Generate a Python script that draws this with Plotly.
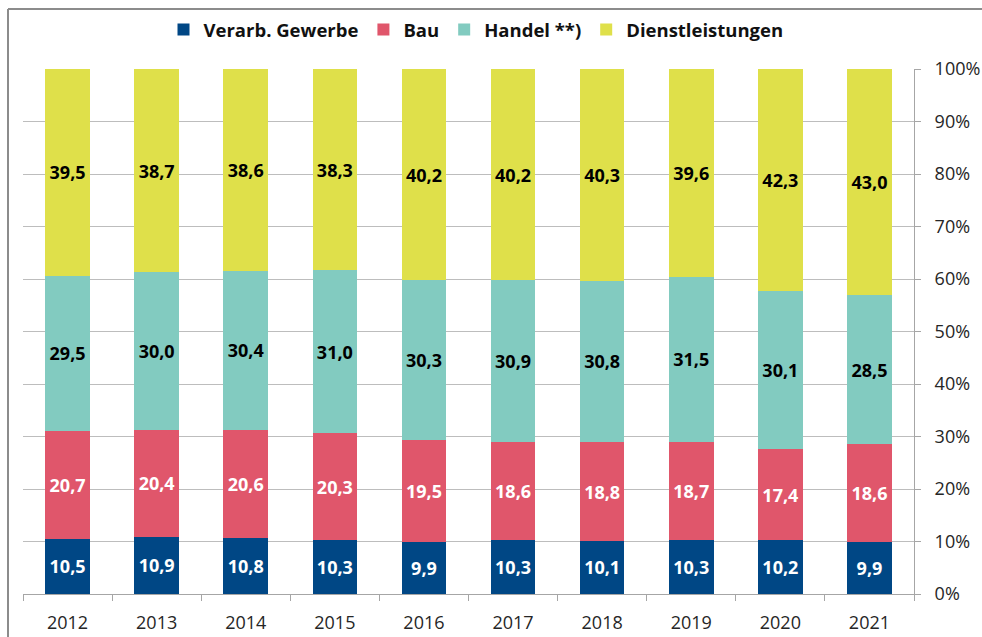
import plotly.graph_objects as go

years = ["2012", "2013", "2014", "2015", "2016", "2017", "2018", "2019", "2020", "2021"]
verarb = [10.5, 10.9, 10.8, 10.3, 9.9, 10.3, 10.1, 10.3, 10.2, 9.9]
bau = [20.7, 20.4, 20.6, 20.3, 19.5, 18.6, 18.8, 18.7, 17.4, 18.6]
handel = [29.5, 30.0, 30.4, 31.0, 30.3, 30.9, 30.8, 31.5, 30.1, 28.5]
dienst = [39.5, 38.7, 38.6, 38.3, 40.2, 40.2, 40.3, 39.6, 42.3, 43.0]

series = [
    ("Verarb. Gewerbe", verarb, "#004785", "white"),
    ("Bau", bau, "#e0566b", "white"),
    ("Handel **)", handel, "#82cbc0", "black"),
    ("Dienstleistungen", dienst, "#dfe04a", "black"),
]

FONT = "Open Sans, DejaVu Sans, sans-serif"

def fmt(v):
    return f"{v:.1f}".replace(".", ",")

fig = go.Figure()
for name, vals, color, tcolor in series:
    fig.add_trace(go.Bar(
        x=years, y=vals, name=name,
        marker=dict(color=color, line=dict(width=0)),
        text=[fmt(v) for v in vals],
        textposition="inside",
        insidetextanchor="middle",
        textangle=0,
        constraintext="none",
        insidetextfont=dict(family=FONT, size=18, color=tcolor, weight="bold"),
        hoverinfo="skip",
    ))

PW, PH = 891, 525  # plot area size in px (for paper-coordinate conversion)

fig.update_layout(
    barmode="stack",
    barnorm="percent",
    bargap=0.5,
    width=982, height=637,
    margin=dict(l=23, r=68, t=69, b=43, autoexpand=False),
    paper_bgcolor="white",
    plot_bgcolor="white",
    font=dict(family=FONT, size=18, color="#262626"),
    legend=dict(
        orientation="h",
        x=(476 - 23) / PW, xanchor="center",
        y=1 + 39 / PH, yanchor="middle",
        font=dict(family=FONT, size=18.5, color="#111111", weight="bold"),
        itemwidth=30,
        traceorder="normal",
        itemclick=False,
        bgcolor="rgba(0,0,0,0)",
    ),
    xaxis=dict(
        automargin=False,
        showline=True, linecolor="#a6a6a6", linewidth=1,
        ticks="outside", tickson="boundaries", ticklen=6, tickcolor="#a6a6a6",
        ticklabelstandoff=12,
        showgrid=False,
        tickfont=dict(family=FONT, size=18, color="#262626"),
    ),
    yaxis=dict(
        automargin=False,
        side="right",
        range=[0, 100], dtick=10, ticksuffix="%",
        showline=True, linecolor="#a6a6a6", linewidth=1,
        ticks="outside", ticklen=6, tickcolor="#a6a6a6",
        ticklabelstandoff=10,
        showgrid=True, gridcolor="#bdbdbd", gridwidth=1,
        zeroline=False,
        tickfont=dict(family=FONT, size=18, color="#262626"),
    ),
    shapes=[
        dict(type="line", xref="paper", yref="paper",
             x0=-15 / PW, x1=1.2, y0=1 + 60 / PH, y1=1 + 60 / PH,
             line=dict(color="#8c8c8c", width=2), layer="above"),
        dict(type="line", xref="paper", yref="paper",
             x0=-15 / PW, x1=-15 / PW, y0=-0.3, y1=1 + 60 / PH,
             line=dict(color="#8c8c8c", width=2), layer="above"),
    ],
)

fig.write_html(
    "out.html",
    config={"displayModeBar": False},
    post_script="document.body.style.margin='0';document.body.style.overflow='hidden';",
)
